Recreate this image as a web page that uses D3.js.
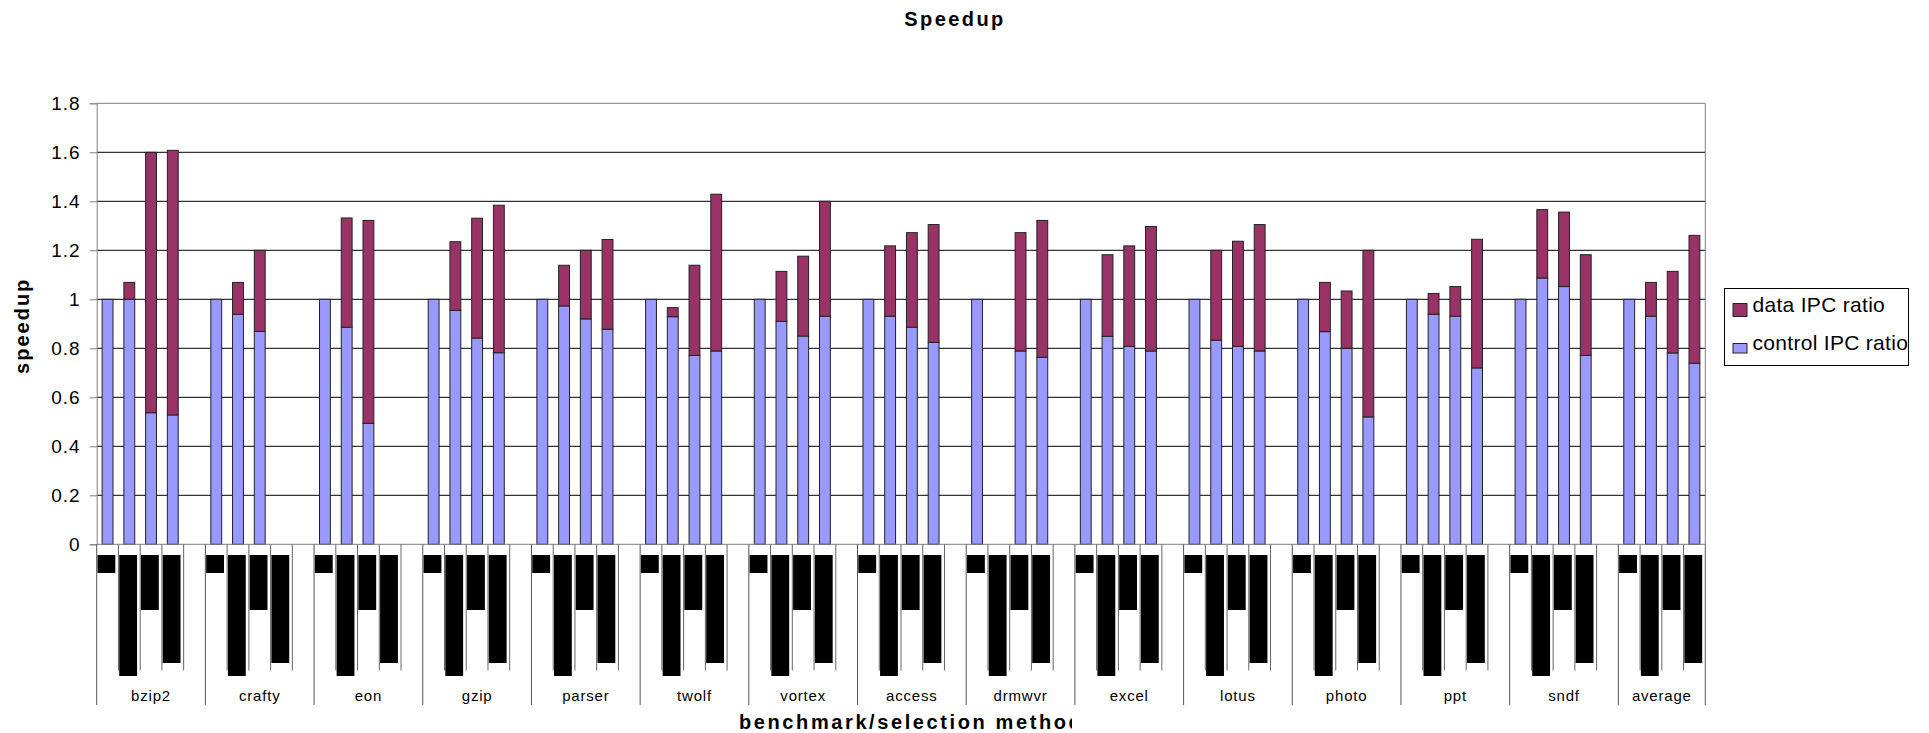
<!DOCTYPE html>
<html><head><meta charset="utf-8">
<script src="https://cdn.jsdelivr.net/npm/d3@7"></script>
<style>
body{margin:0;background:#fff;}
svg{display:block;font-family:"Liberation Sans",Arial,sans-serif;}
</style>
</head><body>
<svg id="chart" width="1929" height="733"></svg>
<script>
// ---- data ----
const benchmarks = ["bzip2","crafty","eon","gzip","parser","twolf","vortex","access","drmwvr","excel","lotus","photo","ppt","sndf","average"];
const methods = ["m1","m2","m3","m4"];
// control IPC ratio (lower segment), null = no bar
const controlIPC = [
  [1.0, 1.0, 0.537, 0.528],
  [1.0, 0.939, 0.869, null],
  [1.0, 0.886, 0.494, null],
  [1.0, 0.955, 0.842, 0.782],
  [1.0, 0.973, 0.920, 0.878],
  [1.0, 0.929, 0.771, 0.789],
  [1.0, 0.910, 0.850, 0.931],
  [1.0, 0.931, 0.886, 0.824],
  [1.0, null, 0.789, 0.763],
  [1.0, 0.849, 0.808, 0.789],
  [1.0, 0.833, 0.808, 0.789],
  [1.0, 0.868, 0.800, 0.520],
  [1.0, 0.939, 0.931, 0.720],
  [1.0, 1.087, 1.052, 0.771],
  [1.0, 0.931, 0.781, 0.739]
];
// data IPC ratio (upper segment)
const dataIPC = [
  [0, 0.069, 1.063, 1.080],
  [0, 0.130, 0.331, null],
  [0, 0.446, 0.828, null],
  [0, 0.280, 0.489, 0.602],
  [0, 0.166, 0.280, 0.366],
  [0, 0.037, 0.368, 0.640],
  [0, 0.204, 0.326, 0.469],
  [0, 0.287, 0.386, 0.481],
  [0, null, 0.483, 0.559],
  [0, 0.333, 0.410, 0.508],
  [0, 0.367, 0.429, 0.516],
  [0, 0.201, 0.234, 0.680],
  [0, 0.085, 0.121, 0.525],
  [0, 0.279, 0.304, 0.411],
  [0, 0.138, 0.333, 0.522]
];
const yTicks = [0, 0.2, 0.4, 0.6, 0.8, 1, 1.2, 1.4, 1.6, 1.8];
const seriesNames = ["data IPC ratio", "control IPC ratio"];
const seriesColors = ["#993366", "#9999FF"];

// ---- layout ----
const svg = d3.select("#chart");
const L = 96.7, R = 1705.3, T = 103.3, B = 544.3;

const slots = [];
benchmarks.forEach((b, g) => {
  methods.forEach((m, i) => slots.push(g + "-" + i));
  if (g < benchmarks.length - 1) slots.push(g + "-gap");
});
const x = d3.scaleBand().domain(slots).range([L, R]).padding(0);
const y = d3.scaleLinear().domain([0, 1.8]).range([B, T]);
const bw = x.bandwidth();

// title
svg.append("text").attr("x", 955).attr("y", 26).attr("text-anchor", "middle")
  .attr("font-size", 20).attr("font-weight", "bold").attr("letter-spacing", 2.4)
  .text("Speedup");

// gridlines
svg.append("g").selectAll("line").data(yTicks.filter(v => v > 0 && v < 1.8)).join("line")
  .attr("x1", L).attr("x2", R).attr("y1", d => y(d)).attr("y2", d => y(d))
  .attr("stroke", "#000").attr("stroke-width", 1);
// plot border top/right
svg.append("line").attr("x1", L).attr("x2", R).attr("y1", y(1.8)).attr("y2", y(1.8)).attr("stroke", "#808080");
svg.append("line").attr("x1", R).attr("x2", R).attr("y1", y(1.8)).attr("y2", B).attr("stroke", "#808080");

// y axis
const yAxis = d3.axisLeft(y).tickValues(yTicks).tickSize(7).tickPadding(9).tickFormat(d => String(d));
const ya = svg.append("g").attr("transform", `translate(${L},0)`).call(yAxis);
ya.select(".domain").attr("stroke", "#808080");
ya.selectAll(".tick line").attr("stroke", "#808080");
ya.selectAll(".tick text").attr("font-size", 19).attr("letter-spacing", 1).attr("fill", "#000")
  .attr("font-family", '"Liberation Sans",Arial,sans-serif');

svg.append("text").attr("transform", `translate(29,${(T + B) / 2 + 2}) rotate(-90)`)
  .attr("text-anchor", "middle").attr("font-size", 20).attr("font-weight", "bold").attr("letter-spacing", 2)
  .text("speedup");

// bars
const bars = [];
benchmarks.forEach((b, g) => methods.forEach((m, i) => {
  const c = controlIPC[g][i], d = dataIPC[g][i];
  if (c == null) return;
  bars.push({ key: g + "-" + i, c, d });
}));
const gb = svg.append("g");
gb.selectAll("rect.c").data(bars).join("rect").attr("class", "c")
  .attr("x", d => x(d.key) + bw * 0.25).attr("width", bw * 0.5)
  .attr("y", d => y(d.c)).attr("height", d => y(0) - y(d.c))
  .attr("fill", seriesColors[1]).attr("stroke", "#222").attr("stroke-width", 1);
gb.selectAll("rect.d").data(bars.filter(d => d.d > 0)).join("rect").attr("class", "d")
  .attr("x", d => x(d.key) + bw * 0.25).attr("width", bw * 0.5)
  .attr("y", d => y(d.c + d.d)).attr("height", d => y(d.c) - y(d.c + d.d))
  .attr("fill", seriesColors[0]).attr("stroke", "#222").attr("stroke-width", 1);

// x axis line
svg.append("line").attr("x1", L).attr("x2", R).attr("y1", B).attr("y2", B).attr("stroke", "#808080");

// multi-level category axis: sub-lines, group lines, label blocks
const gx = svg.append("g");
const subX = [];
const grpX = [];
benchmarks.forEach((b, g) => {
  grpX.push(x(g + "-0"));
  [1, 2, 3].forEach(i => subX.push(x(g + "-" + i)));
  if (g < benchmarks.length - 1) subX.push(x(g + "-gap"));
});
grpX.push(R);
gx.selectAll("line.s").data(subX).join("line").attr("class", "s")
  .attr("x1", d => d).attr("x2", d => d).attr("y1", B).attr("y2", 670.5)
  .attr("stroke", "#666");
gx.selectAll("line.g").data(grpX).join("line").attr("class", "g")
  .attr("x1", d => d).attr("x2", d => d).attr("y1", B).attr("y2", 705)
  .attr("stroke", "#555");

// selection-method labels render as solid black blocks
const blockLen = [18, 121, 55, 108];
const blocks = [];
benchmarks.forEach((b, g) => methods.forEach((m, i) => blocks.push({ key: g + "-" + i, i })));
gx.selectAll("rect.blk").data(blocks).join("rect").attr("class", "blk")
  .attr("x", d => x(d.key) + 0.8).attr("width", bw * 0.82)
  .attr("y", 555).attr("height", d => blockLen[d.i]).attr("fill", "#000");

// benchmark labels
gx.selectAll("text.cat").data(benchmarks).join("text").attr("class", "cat")
  .attr("x", (d, g) => (grpX[g] + (g < benchmarks.length - 1 ? x(g + "-gap") + bw : R)) / 2)
  .attr("y", 701).attr("text-anchor", "middle").attr("font-size", 15).attr("letter-spacing", 0.8)
  .text(d => d);

// x title (clipped as in original)
svg.append("clipPath").attr("id", "xtclip").append("rect").attr("x", 0).attr("y", 700).attr("width", 1072).attr("height", 40);
svg.append("text").attr("clip-path", "url(#xtclip)").attr("x", 739).attr("y", 729)
  .attr("font-size", 20).attr("font-weight", "bold").attr("letter-spacing", 2.6)
  .text("benchmark/selection method");

// legend
const lg = svg.append("g");
lg.append("clipPath").attr("id", "lgclip").append("rect").attr("x", 1724).attr("y", 288).attr("width", 184).attr("height", 78);
lg.append("rect").attr("x", 1724.5).attr("y", 288.5).attr("width", 184).attr("height", 77)
  .attr("fill", "#fff").attr("stroke", "#000");
const lgY = [{ sy: 303.5, sh: 13, ty: 312 }, { sy: 343.5, sh: 9.5, ty: 349.5 }];
seriesNames.forEach((n, i) => {
  lg.append("rect").attr("x", 1733).attr("y", lgY[i].sy).attr("width", 14).attr("height", lgY[i].sh)
    .attr("fill", seriesColors[i]).attr("stroke", "#222");
  lg.append("text").attr("clip-path", "url(#lgclip)").attr("x", 1752.5).attr("y", lgY[i].ty)
    .attr("font-size", 21).attr("letter-spacing", 0.3).text(n);
});
</script>
</body></html>
